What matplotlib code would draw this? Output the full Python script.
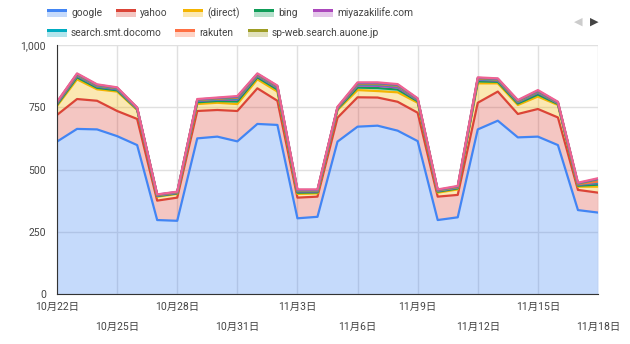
import matplotlib
matplotlib.use("Agg")
import matplotlib.pyplot as plt
import numpy as np
from matplotlib.patches import Rectangle

plt.rcParams['font.family'] = ['Roboto', 'Noto Sans CJK JP', 'DejaVu Sans']

# days from 10/22 to 11/18
days = ["10月22日", "10月23日", "10月24日", "10月25日", "10月26日", "10月27日", "10月28日",
        "10月29日", "10月30日", "10月31日", "11月1日", "11月2日", "11月3日", "11月4日",
        "11月5日", "11月6日", "11月7日", "11月8日", "11月9日", "11月10日", "11月11日",
        "11月12日", "11月13日", "11月14日", "11月15日", "11月16日", "11月17日", "11月18日"]

google = [612, 663, 661, 634, 598, 297, 294, 625, 632, 613, 683, 679, 304, 310,
          612, 672, 676, 656, 614, 297, 308, 661, 696, 629, 632, 598, 337, 327]
yahoo = [107, 120, 115, 101, 105, 78, 93, 110, 107, 122, 143, 97, 83, 81,
         96, 118, 113, 116, 114, 94, 90, 107, 117, 94, 111, 111, 81, 80]
direct = [36, 79, 46, 78, 36, 16, 15, 28, 29, 28, 36, 37, 15, 13,
          31, 29, 26, 38, 40, 16, 22, 78, 33, 36, 50, 50, 13, 24]
bing = [5, 8, 6, 5, 3, 2, 2, 7, 7, 10, 8, 8, 5, 4,
        4, 10, 12, 11, 6, 4, 4, 8, 6, 6, 8, 4, 4, 8]
miyazakilife = [4, 6, 5, 4, 2, 2, 2, 5, 5, 8, 6, 6, 5, 4,
                3, 8, 9, 8, 4, 3, 3, 6, 5, 5, 7, 3, 4, 6]
docomo = [2, 3, 2, 2, 1, 1, 1, 2, 2, 4, 3, 3, 2, 2,
          1, 4, 5, 5, 2, 1, 1, 3, 2, 2, 3, 1, 1, 3]
rakuten = [2, 2, 2, 2, 1, 1, 1, 2, 2, 3, 2, 2, 2, 2,
           1, 2, 2, 2, 2, 1, 1, 2, 2, 2, 2, 1, 1, 3]
auone = [1, 1, 1, 1, 1, 1, 1, 1, 1, 2, 1, 1, 1, 1,
         1, 2, 2, 2, 1, 1, 1, 1, 1, 1, 1, 1, 2, 9]
# next legend page (not shown on first page)
other1 = [1, 2, 2, 1, 1, 1, 1, 1, 2, 2, 2, 2, 1, 1,
          1, 2, 2, 2, 1, 1, 2, 2, 2, 2, 2, 1, 2, 2]
other2 = [2, 2, 2, 2, 1, 1, 1, 2, 2, 3, 2, 2, 2, 2,
          2, 3, 3, 3, 2, 2, 2, 2, 2, 2, 3, 2, 2, 3]

names = ["google", "yahoo", "(direct)", "bing", "miyazakilife.com",
         "search.smt.docomo", "rakuten", "sp-web.search.auone.jp"]
series = [google, yahoo, direct, bing, miyazakilife, docomo, rakuten, auone, other1, other2]
colors = ["#4285F4", "#DB4437", "#F4B400", "#0F9D58", "#AB47BC",
          "#00ACC1", "#FF7043", "#9E9D24", "#5C6BC0", "#F06292"]

x = np.arange(len(days))
fig = plt.figure(figsize=(6.3, 3.44), dpi=100)
ax = fig.add_axes([57/630, 1-294/344, 541/630, 249/344])

base = np.zeros(len(x))
tops = []
for s, c in zip(series, colors):
    top = base + np.array(s)
    ax.fill_between(x, base, top, color=c, alpha=0.3, lw=0)
    tops.append(top)
    base = top
for top, c in zip(tops, colors):
    ax.plot(x, top, color=c, lw=1.6, solid_joinstyle='round')

ax.set_xlim(0, 27)
ax.set_ylim(0, 1000)
ax.set_yticks([0, 250, 500, 750, 1000])
ax.set_yticklabels(["0", "250", "500", "750", "1,000"])
ticks = list(range(0, 28, 3))
ax.set_xticks(ticks)
ax.set_xticklabels([days[i] for i in ticks])
ax.grid(True, color="#e0e0e0", lw=1)
ax.set_axisbelow(True)
ax.tick_params(length=0, labelsize=7.5, colors="#444444")
for i, t in enumerate(ax.xaxis.get_major_ticks()):
    t.set_pad(6 if i % 2 == 0 else 20)
ax.tick_params(axis='y', pad=8)
for sp in ["top", "right"]:
    ax.spines[sp].set_visible(False)
ax.spines["left"].set_color("#333333")
ax.spines["bottom"].set_color("#333333")

# legend
leg_pos = [(47, 13), (116, 13), (183, 13), (254, 13), (313, 13),
           (47, 33), (175, 33), (248, 33)]
for (px, py), n, c in zip(leg_pos, names, colors):
    fig.patches.append(Rectangle((px/630, 1-(py+4)/344), 20/630, 7/344,
                                 transform=fig.transFigure, color=c, alpha=0.3, lw=0))
    fig.patches.append(Rectangle((px/630, 1-(py-1)/344), 20/630, 3/344,
                                 transform=fig.transFigure, color=c, lw=0))
    fig.text((px+24)/630, 1-py/344, n, fontsize=7.3, color="#444444", va='center')
fig.text(578/630, 1-22/344, "◀", fontsize=8, color="#cccccc", ha='center', va='center',
         family='DejaVu Sans')
fig.text(594/630, 1-22/344, "▶", fontsize=8, color="#444444", ha='center', va='center',
         family='DejaVu Sans')

fig.savefig("out.png", dpi=100)
